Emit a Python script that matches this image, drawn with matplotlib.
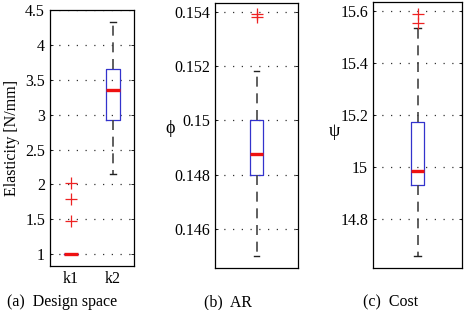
import matplotlib
matplotlib.use('Agg')
import matplotlib.pyplot as plt

plt.rcParams['font.family'] = ['Liberation Serif', 'DejaVu Serif']
plt.rcParams['font.size'] = 11.5

# box statistics
k_labels = ['k1', 'k2']
k_med = [1.0, 3.35]
k_q1 = [1.0, 2.93]
k_q3 = [1.0, 3.65]
k_lo = [1.0, 2.15]
k_hi = [1.0, 4.33]
k_fliers = [[1.47, 1.79, 2.02], []]

ar_med = 0.14875
ar_q1 = 0.14797
ar_q3 = 0.15003
ar_lo = 0.14499
ar_hi = 0.15184
ar_fliers = [0.15382, 0.15394]

cost_med = 14.985
cost_q1 = 14.93
cost_q3 = 15.173
cost_lo = 14.658
cost_hi = 15.535
cost_fliers = [15.553, 15.588]


def stats(med, q1, q3, lo, hi, fl, label=''):
    return dict(med=med, q1=q1, q3=q3, whislo=lo, whishi=hi, fliers=fl, label=label)


def draw(ax, st, width, capw):
    ax.bxp(st, widths=width, capwidths=capw, showfliers=True,
           boxprops=dict(color='#3333cc', linewidth=0.9),
           medianprops=dict(color='#ee1111', linewidth=2.4),
           whiskerprops=dict(color='#444444', linewidth=1.2, linestyle=(0, (6, 4))),
           capprops=dict(color='#222222', linewidth=1.0),
           flierprops=dict(marker='+', markeredgecolor='#ee2222', markersize=8,
                           markeredgewidth=0.9, linestyle='none'))
    ax.yaxis.grid(True, linestyle=(0, (1, 6)), color='#333333', linewidth=0.9)
    ax.set_axisbelow(True)
    ax.tick_params(direction='in', length=2.5, width=0.6, right=True, top=False,
                   bottom=False, labelsize=11.5)
    for s in ax.spines.values():
        s.set_linewidth(0.9)


fig = plt.figure(figsize=(4.68, 3.10), dpi=100)

ax1 = fig.add_axes([0.1068, 0.1419, 0.1795, 0.8258])
draw(ax1, [stats(k_med[i], k_q1[i], k_q3[i], k_lo[i], k_hi[i], k_fliers[i], k_labels[i])
           for i in range(2)], 0.33, 0.14)
ax1.set_xlim(0.5, 2.5)
ax1.set_ylim(0.83, 4.5)
ax1.set_yticks([1, 1.5, 2, 2.5, 3, 3.5, 4, 4.5])
ax1.set_yticklabels(['1', '1.5', '2', '2.5', '3', '3.5', '4', '4.5'])
ax1.set_ylabel('Elasticity [N/mm]', fontsize=11.5, va='center', ha='center')
ax1.yaxis.set_label_coords(-0.45, 0.5)

ax2 = fig.add_axes([0.4594, 0.1355, 0.1774, 0.8548])
draw(ax2, [stats(ar_med, ar_q1, ar_q3, ar_lo, ar_hi, ar_fliers)], 0.15, 0.07)
ax2.set_xlim(0.5, 1.5)
ax2.set_ylim(0.14455, 0.15434)
ax2.set_yticks([0.146, 0.148, 0.15, 0.152, 0.154])
ax2.set_yticklabels(['0.146', '0.148', '0.15', '0.152', '0.154'])
ax2.set_xticks([])
ax2.set_ylabel('ϕ', rotation=0, fontsize=13, va='center', ha='center')
ax2.yaxis.set_label_coords(-0.54, 0.525)

ax3 = fig.add_axes([0.797, 0.1355, 0.1902, 0.858])
draw(ax3, [stats(cost_med, cost_q1, cost_q3, cost_lo, cost_hi, cost_fliers)], 0.14, 0.07)
ax3.set_xlim(0.5, 1.5)
ax3.set_ylim(14.612, 15.635)
ax3.set_yticks([14.8, 15, 15.2, 15.4, 15.6])
ax3.set_yticklabels(['14.8', '15', '15.2', '15.4', '15.6'])
ax3.set_xticks([])
ax3.set_ylabel('ψ', rotation=0, fontsize=13, va='center', ha='center')
ax3.yaxis.set_label_coords(-0.43, 0.515)

cap_y = 1 - 306 / 310
fig.text(62 / 468, cap_y, '(a)  Design space', ha='center', va='baseline', fontsize=11.5)
fig.text(228 / 468, cap_y, '(b)  AR', ha='center', va='baseline', fontsize=11.5)
fig.text(391 / 468, cap_y, '(c)  Cost', ha='center', va='baseline', fontsize=11.5)

fig.savefig('out.png', dpi=100)
